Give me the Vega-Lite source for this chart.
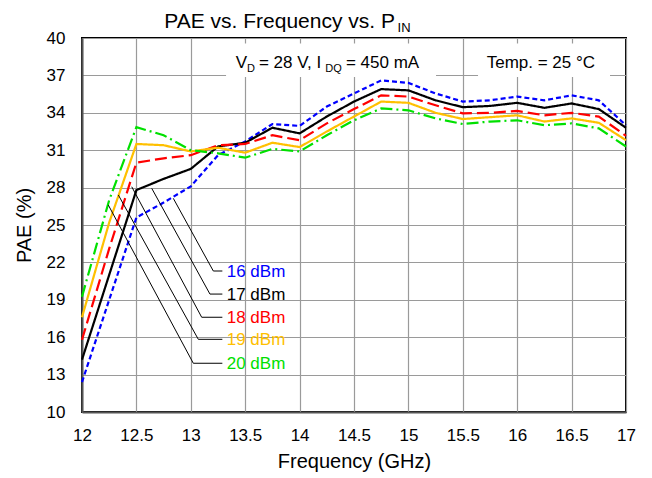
{
  "$schema": "https://vega.github.io/schema/vega-lite/v6.json",
  "width": 544,
  "height": 374,
  "autosize": {"type": "none"},
  "padding": {"left": 82, "top": 38, "right": 26, "bottom": 66},
  "background": "white",
  "config": {
    "font": "Liberation Sans",
    "view": {"stroke": "#000000", "strokeWidth": 2},
    "axis": {
      "gridColor": "#9a9a9a",
      "gridWidth": 1.2,
      "ticks": false,
      "labelFlush": false,
      "labelColor": "#000000",
      "labelFontSize": 17,
      "titleFontSize": 20,
      "titleFontWeight": "normal",
      "titleColor": "#000000",
      "domainColor": "#555555",
      "domainWidth": 2
    }
  },
  "datasets": {
    "series": [
      {"s": "16 dBm", "f": 12, "p": 12.4}, {"s": "16 dBm", "f": 12.25, "p": 19.0}, {"s": "16 dBm", "f": 12.5, "p": 25.6}, {"s": "16 dBm", "f": 12.75, "p": 26.8}, {"s": "16 dBm", "f": 13, "p": 28.1}, {"s": "16 dBm", "f": 13.25, "p": 30.6}, {"s": "16 dBm", "f": 13.5, "p": 31.7}, {"s": "16 dBm", "f": 13.75, "p": 33.1}, {"s": "16 dBm", "f": 14, "p": 32.95}, {"s": "16 dBm", "f": 14.25, "p": 34.5}, {"s": "16 dBm", "f": 14.5, "p": 35.55}, {"s": "16 dBm", "f": 14.75, "p": 36.6}, {"s": "16 dBm", "f": 15, "p": 36.4}, {"s": "16 dBm", "f": 15.25, "p": 35.55}, {"s": "16 dBm", "f": 15.5, "p": 34.9}, {"s": "16 dBm", "f": 15.75, "p": 35.0}, {"s": "16 dBm", "f": 16, "p": 35.3}, {"s": "16 dBm", "f": 16.25, "p": 35.0}, {"s": "16 dBm", "f": 16.5, "p": 35.4}, {"s": "16 dBm", "f": 16.75, "p": 35.0}, {"s": "16 dBm", "f": 17, "p": 33.0},
      {"s": "17 dBm", "f": 12, "p": 14.2}, {"s": "17 dBm", "f": 12.25, "p": 21.0}, {"s": "17 dBm", "f": 12.5, "p": 27.8}, {"s": "17 dBm", "f": 12.75, "p": 28.7}, {"s": "17 dBm", "f": 13, "p": 29.5}, {"s": "17 dBm", "f": 13.25, "p": 31.3}, {"s": "17 dBm", "f": 13.5, "p": 31.6}, {"s": "17 dBm", "f": 13.75, "p": 32.8}, {"s": "17 dBm", "f": 14, "p": 32.35}, {"s": "17 dBm", "f": 14.25, "p": 33.7}, {"s": "17 dBm", "f": 14.5, "p": 34.9}, {"s": "17 dBm", "f": 14.75, "p": 35.9}, {"s": "17 dBm", "f": 15, "p": 35.8}, {"s": "17 dBm", "f": 15.25, "p": 35.0}, {"s": "17 dBm", "f": 15.5, "p": 34.45}, {"s": "17 dBm", "f": 15.75, "p": 34.55}, {"s": "17 dBm", "f": 16, "p": 34.8}, {"s": "17 dBm", "f": 16.25, "p": 34.4}, {"s": "17 dBm", "f": 16.5, "p": 34.75}, {"s": "17 dBm", "f": 16.75, "p": 34.3}, {"s": "17 dBm", "f": 17, "p": 32.8},
      {"s": "18 dBm", "f": 12, "p": 15.8}, {"s": "18 dBm", "f": 12.25, "p": 23.1}, {"s": "18 dBm", "f": 12.5, "p": 30.0}, {"s": "18 dBm", "f": 12.75, "p": 30.35}, {"s": "18 dBm", "f": 13, "p": 30.6}, {"s": "18 dBm", "f": 13.25, "p": 31.4}, {"s": "18 dBm", "f": 13.5, "p": 31.5}, {"s": "18 dBm", "f": 13.75, "p": 32.2}, {"s": "18 dBm", "f": 14, "p": 31.8}, {"s": "18 dBm", "f": 14.25, "p": 33.15}, {"s": "18 dBm", "f": 14.5, "p": 34.3}, {"s": "18 dBm", "f": 14.75, "p": 35.4}, {"s": "18 dBm", "f": 15, "p": 35.3}, {"s": "18 dBm", "f": 15.25, "p": 34.6}, {"s": "18 dBm", "f": 15.5, "p": 33.95}, {"s": "18 dBm", "f": 15.75, "p": 34.0}, {"s": "18 dBm", "f": 16, "p": 34.15}, {"s": "18 dBm", "f": 16.25, "p": 33.8}, {"s": "18 dBm", "f": 16.5, "p": 34.0}, {"s": "18 dBm", "f": 16.75, "p": 33.7}, {"s": "18 dBm", "f": 17, "p": 32.15},
      {"s": "19 dBm", "f": 12, "p": 17.6}, {"s": "19 dBm", "f": 12.25, "p": 25.2}, {"s": "19 dBm", "f": 12.5, "p": 31.5}, {"s": "19 dBm", "f": 12.75, "p": 31.4}, {"s": "19 dBm", "f": 13, "p": 30.9}, {"s": "19 dBm", "f": 13.25, "p": 31.2}, {"s": "19 dBm", "f": 13.5, "p": 30.8}, {"s": "19 dBm", "f": 13.75, "p": 31.6}, {"s": "19 dBm", "f": 14, "p": 31.25}, {"s": "19 dBm", "f": 14.25, "p": 32.5}, {"s": "19 dBm", "f": 14.5, "p": 33.7}, {"s": "19 dBm", "f": 14.75, "p": 34.9}, {"s": "19 dBm", "f": 15, "p": 34.8}, {"s": "19 dBm", "f": 15.25, "p": 34.0}, {"s": "19 dBm", "f": 15.5, "p": 33.5}, {"s": "19 dBm", "f": 15.75, "p": 33.65}, {"s": "19 dBm", "f": 16, "p": 33.8}, {"s": "19 dBm", "f": 16.25, "p": 33.3}, {"s": "19 dBm", "f": 16.5, "p": 33.55}, {"s": "19 dBm", "f": 16.75, "p": 33.2}, {"s": "19 dBm", "f": 17, "p": 31.8},
      {"s": "20 dBm", "f": 12, "p": 19.25}, {"s": "20 dBm", "f": 12.25, "p": 27.0}, {"s": "20 dBm", "f": 12.5, "p": 32.85}, {"s": "20 dBm", "f": 12.75, "p": 32.2}, {"s": "20 dBm", "f": 13, "p": 31.0}, {"s": "20 dBm", "f": 13.25, "p": 30.75}, {"s": "20 dBm", "f": 13.5, "p": 30.4}, {"s": "20 dBm", "f": 13.75, "p": 31.1}, {"s": "20 dBm", "f": 14, "p": 30.9}, {"s": "20 dBm", "f": 14.25, "p": 32.2}, {"s": "20 dBm", "f": 14.5, "p": 33.4}, {"s": "20 dBm", "f": 14.75, "p": 34.35}, {"s": "20 dBm", "f": 15, "p": 34.2}, {"s": "20 dBm", "f": 15.25, "p": 33.55}, {"s": "20 dBm", "f": 15.5, "p": 33.1}, {"s": "20 dBm", "f": 15.75, "p": 33.3}, {"s": "20 dBm", "f": 16, "p": 33.4}, {"s": "20 dBm", "f": 16.25, "p": 33.0}, {"s": "20 dBm", "f": 16.5, "p": 33.15}, {"s": "20 dBm", "f": 16.75, "p": 32.75}, {"s": "20 dBm", "f": 17, "p": 31.3}
    ],
    "leaders": [
      {"s": "16 dBm", "o": 1, "f": 12.839, "p": 27.14}, {"s": "16 dBm", "o": 2, "f": 13.207, "p": 21.31}, {"s": "16 dBm", "o": 3, "f": 13.29, "p": 21.31},
      {"s": "17 dBm", "o": 1, "f": 12.641, "p": 27.94}, {"s": "17 dBm", "o": 2, "f": 13.176, "p": 19.46}, {"s": "17 dBm", "o": 3, "f": 13.29, "p": 19.46},
      {"s": "18 dBm", "o": 1, "f": 12.457, "p": 28.07}, {"s": "18 dBm", "o": 2, "f": 13.1, "p": 17.6}, {"s": "18 dBm", "o": 3, "f": 13.29, "p": 17.6},
      {"s": "19 dBm", "o": 1, "f": 12.334, "p": 27.41}, {"s": "19 dBm", "o": 2, "f": 13.069, "p": 15.83}, {"s": "19 dBm", "o": 3, "f": 13.29, "p": 15.83},
      {"s": "20 dBm", "o": 1, "f": 12.242, "p": 26.6}, {"s": "20 dBm", "o": 2, "f": 13.023, "p": 13.91}, {"s": "20 dBm", "o": 3, "f": 13.29, "p": 13.91}
    ],
    "labels": [
      {"s": "16 dBm", "f": 13.33, "p": 21.31},
      {"s": "17 dBm", "f": 13.33, "p": 19.46},
      {"s": "18 dBm", "f": 13.33, "p": 17.6},
      {"s": "19 dBm", "f": 13.33, "p": 15.83},
      {"s": "20 dBm", "f": 13.33, "p": 13.91}
    ],
    "boxes": [
      {"f": 13.324, "f2": 15.254, "p": 36.87, "p2": 39.55},
      {"f": 15.64, "f2": 16.853, "p": 36.87, "p2": 39.55}
    ],
    "notes": [
      {"k": "main", "t": "V", "f": 13.4127, "p": 37.617},
      {"k": "sub", "t": "D", "f": 13.5165, "p": 37.27},
      {"k": "main", "t": "= 28 V, I", "f": 13.6259, "p": 37.617},
      {"k": "sub", "t": "DQ", "f": 14.236, "p": 37.27},
      {"k": "main", "t": "= 450 mA", "f": 14.4255, "p": 37.617},
      {"k": "main", "t": "Temp. = 25 °C", "f": 15.7197, "p": 37.617},
      {"k": "title", "t": "PAE vs. Frequency vs. P", "f": 12.7564, "p": 40.78},
      {"k": "titlesub", "t": "IN", "f": 14.9, "p": 40.52}
    ]
  },
  "encoding": {
    "x": {
      "field": "f", "type": "quantitative", "title": "Frequency (GHz)",
      "scale": {"domain": [12, 17], "nice": false, "zero": false},
      "axis": {"values": [12, 12.5, 13, 13.5, 14, 14.5, 15, 15.5, 16, 16.5, 17], "format": "~g", "labelPadding": 15, "titlePadding": 8}
    },
    "y": {
      "field": "p", "type": "quantitative", "title": "PAE (%)",
      "scale": {"domain": [10, 40], "nice": false, "zero": false},
      "axis": {"values": [10, 13, 16, 19, 22, 25, 28, 31, 34, 37, 40], "format": "d", "labelPadding": 17, "titlePadding": 12}
    }
  },
  "layer": [
    {
      "data": {"name": "boxes"},
      "mark": {"type": "rect", "fill": "white", "stroke": null},
      "encoding": {"x2": {"field": "f2"}, "y2": {"field": "p2"}}
    },
    {
      "data": {"name": "series"},
      "mark": {"type": "line", "strokeWidth": 2.2},
      "encoding": {
        "color": {"field": "s", "type": "nominal", "legend": null,
          "scale": {"domain": ["16 dBm", "17 dBm", "18 dBm", "19 dBm", "20 dBm"], "range": ["#0000FF", "#000000", "#FF0000", "#FFC000", "#00E000"]}},
        "strokeDash": {"field": "s", "type": "nominal", "legend": null,
          "scale": {"domain": ["16 dBm", "17 dBm", "18 dBm", "19 dBm", "20 dBm"], "range": [[5, 3], [1, 0], [12, 5], [1, 0], [12, 4, 2, 4]]}}
      }
    },
    {
      "data": {"name": "leaders"},
      "mark": {"type": "line", "strokeWidth": 1, "color": "#000000"},
      "encoding": {"detail": {"field": "s"}, "order": {"field": "o"}}
    },
    {
      "data": {"name": "labels"},
      "mark": {"type": "text", "align": "left", "baseline": "middle", "fontSize": 17, "dy": 1},
      "encoding": {"text": {"field": "s"}, "color": {"field": "s", "type": "nominal", "legend": null}}
    },
    {
      "data": {"name": "notes"},
      "transform": [{"filter": "datum.k == 'main'"}],
      "mark": {"type": "text", "align": "left", "baseline": "alphabetic", "fontSize": 17, "color": "#000000"},
      "encoding": {"text": {"field": "t"}}
    },
    {
      "data": {"name": "notes"},
      "transform": [{"filter": "datum.k == 'sub'"}],
      "mark": {"type": "text", "align": "left", "baseline": "alphabetic", "fontSize": 11, "color": "#000000"},
      "encoding": {"text": {"field": "t"}}
    },
    {
      "data": {"name": "notes"},
      "transform": [{"filter": "datum.k == 'title'"}],
      "mark": {"type": "text", "align": "left", "baseline": "alphabetic", "fontSize": 21, "color": "#000000"},
      "encoding": {"text": {"field": "t"}}
    },
    {
      "data": {"name": "notes"},
      "transform": [{"filter": "datum.k == 'titlesub'"}],
      "mark": {"type": "text", "align": "left", "baseline": "alphabetic", "fontSize": 13, "color": "#000000"},
      "encoding": {"text": {"field": "t"}}
    }
  ]
}
